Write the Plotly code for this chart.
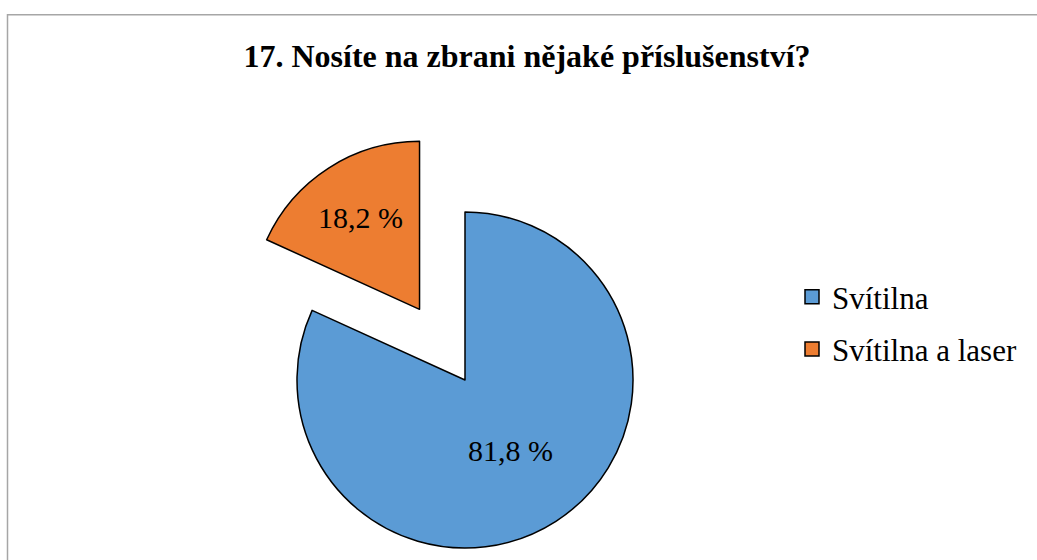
import math
import plotly.graph_objects as go

# ---- data ----
categories = ["Svítilna", "Svítilna a laser"]
values = [81.8, 18.2]
pulls = [0.0, 0.5]
colors = ["#5B9BD5", "#ED7D31"]
title_text = "17. Nosíte na zbrani nějaké příslušenství?"

# ---- layout constants ----
W, H = 1037, 560
CX, CY, R = 465, 380, 168  # pie centre / radius in pixels
FONT = "Liberation Serif, Times New Roman, serif"
TRANSPARENT = "rgba(0,0,0,0)"

labels_txt = [f"{v:.1f}".replace(".", ",") + " %" for v in values]
total = sum(values)

fig = go.Figure()

start = 0.0
for i, (cat, v) in enumerate(zip(categories, values)):
    frac = v / total
    mid = math.radians((start + frac / 2) * 360)  # clockwise from 12 o'clock
    start += frac
    dx = pulls[i] * R * math.sin(mid)
    dy = -pulls[i] * R * math.cos(mid)
    cx, cy = CX + dx, CY + dy
    dom_x = [(cx - R) / W, (cx + R) / W]
    dom_y = [1 - (cy + R) / H, 1 - (cy - R) / H]
    fig.add_trace(go.Pie(
        labels=categories,
        values=values,
        sort=False,
        direction="clockwise",
        rotation=0,
        domain=dict(x=dom_x, y=dom_y),
        marker=dict(
            colors=[colors[j] if j == i else TRANSPARENT for j in range(len(values))],
            line=dict(color="black",
                      width=[1.5 if j == i else 0 for j in range(len(values))]),
        ),
        text=[labels_txt[j] if j == i else "" for j in range(len(values))],
        textinfo="text",
        textposition="inside",
        insidetextorientation="horizontal",
        textfont=dict(family=FONT, size=30, color="black"),
        hoverinfo="skip",
        showlegend=False,
    ))

# legend entries
for i, cat in enumerate(categories):
    fig.add_trace(go.Scatter(
        x=[None], y=[None], mode="markers", name=cat,
        legendgroup=f"g{i}",
        marker=dict(symbol="square", size=14, color=colors[i],
                    line=dict(color="black", width=1.5)),
    ))

fig.update_layout(
    width=W, height=H,
    margin=dict(l=0, r=0, t=0, b=0),
    paper_bgcolor="white",
    plot_bgcolor="white",
    xaxis=dict(visible=False),
    yaxis=dict(visible=False),
    title=dict(text=title_text, x=527 / W, y=1 - 56 / H,
               xanchor="center", yanchor="middle",
               font=dict(family=FONT, size=32, color="black", weight="bold")),
    legend=dict(x=792 / W, y=1 - 270 / H, xanchor="left", yanchor="top",
                font=dict(family=FONT, size=31, color="black"),
                tracegroupgap=9, bgcolor="rgba(0,0,0,0)"),
    shapes=[dict(type="rect", xref="paper", yref="paper",
                 x0=7.5 / W, x1=1.05, y0=-0.1, y1=1 - 14.7 / H,
                 line=dict(color="#A6A6A6", width=1.5), layer="below")],
)

fig.write_html(
    "out.html",
    config={"displayModeBar": False},
    post_script="document.body.style.margin='0';document.body.style.overflow='hidden';",
)
